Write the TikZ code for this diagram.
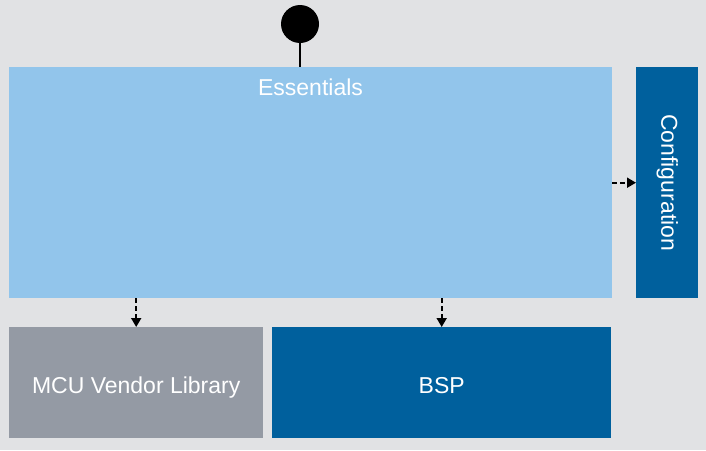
\documentclass[tikz,border=0pt]{standalone}
\usepackage{fontspec}
\setmainfont{Liberation Sans}
\usetikzlibrary{arrows.meta}
\definecolor{bg}{HTML}{E1E2E4}
\definecolor{lightblue}{HTML}{92C5EB}
\definecolor{darkblue}{HTML}{00609D}
\definecolor{vendorgray}{HTML}{949AA4}
\tikzset{
  box/.style={draw=none, anchor=north west, inner sep=0pt, text=white},
  lbl/.style={text=white, inner sep=0pt, font=\fontsize{23}{27}\selectfont},
  deparrow/.style={line width=1.8pt, dash pattern=on 5pt off 3pt,
    -{Triangle[length=9pt,width=10pt]}},
}
\begin{document}
\begin{tikzpicture}[x=1pt,y=-1pt]
\useasboundingbox[fill=bg] (0,0) rectangle (706,450);
\node[box, fill=lightblue, minimum width=603pt, minimum height=231pt] (ess) at (9,67) {};
\node[lbl, anchor=base] (esslabel) at (310.5,95.5) {Essentials};
\node[box, fill=darkblue, minimum width=62pt, minimum height=231pt] (conf) at (636,67) {};
\node[lbl, rotate=-90] (conflabel) at (conf.center) {Configuration};
\node[box, fill=vendorgray, minimum width=254pt, minimum height=111pt] (mcu) at (9,327) {};
\node[lbl, anchor=base] (mculabel) at ([yshift=-10.5pt]mcu.center) {MCU Vendor Library};
\node[box, fill=darkblue, minimum width=339pt, minimum height=111pt] (bsp) at (272,327) {};
\node[lbl, anchor=base] (bsplabel) at ([yshift=-10.5pt]bsp.center) {BSP};
\node[circle, fill=black, minimum size=38pt, inner sep=0pt] (start) at (300,24) {};
\draw[line width=2pt] (start.south) -- (start.south |- ess.north);
\draw[deparrow] (mcu.north |- ess.south) -- (mcu.north);
\draw[deparrow] (bsp.north |- ess.south) -- (bsp.north);
\draw[deparrow] (ess.east) -- (conf.west);
\end{tikzpicture}
\end{document}
